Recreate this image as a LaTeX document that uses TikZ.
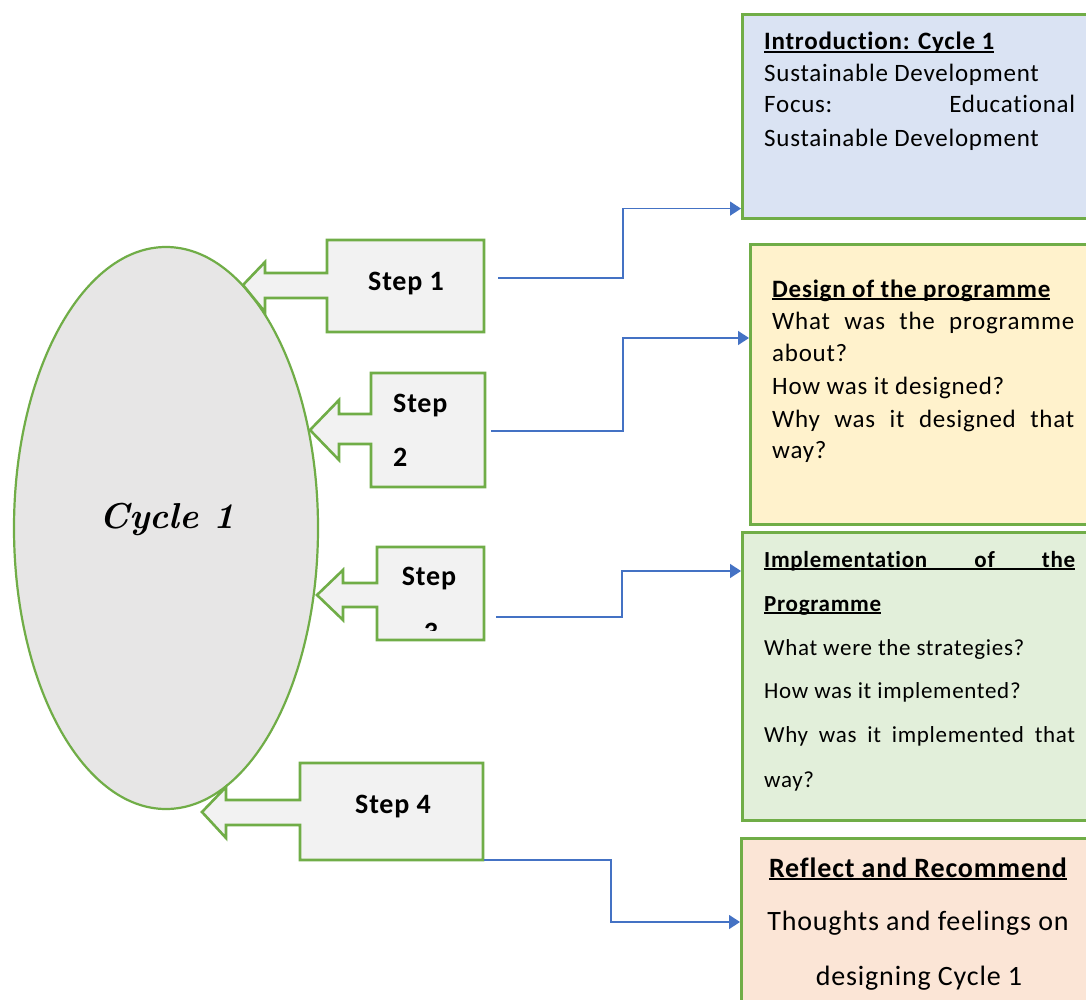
\documentclass[tikz,border=0pt]{standalone}
\usepackage{fontspec}
\setmainfont{Carlito}[LetterSpace=3, Ligatures=NoCommon]
\newfontfamily\cyclefont{Latin Modern Roman}
\usetikzlibrary{arrows.meta,calc,shapes.geometric}
\definecolor{edgegreen}{HTML}{70AD47}
\definecolor{connblue}{HTML}{4472C4}
\definecolor{ovalgray}{HTML}{E7E6E6}
\definecolor{calloutgray}{HTML}{F2F2F2}
\definecolor{introblue}{HTML}{DAE3F3}
\definecolor{designyellow}{HTML}{FFF2CC}
\definecolor{implgreen}{HTML}{E2EFDA}
\definecolor{reflectpeach}{HTML}{FBE5D6}
% underline drawn just under the baseline, through the descenders
\newcommand\ulbox[1]{\leavevmode\setbox0\hbox{#1}\rlap{\rule[-3pt]{\wd0}{1.8pt}}\box0}
\begin{document}
\begin{tikzpicture}[x=1pt,y=-1pt,
  panel/.style={draw=edgegreen, line width=2.6pt, anchor=north west, inner sep=0pt},
  callout/.style={draw=edgegreen, fill=calloutgray, line width=2.6pt, line join=miter},
  txt/.style={anchor=base west, inner sep=0pt},
  ctxt/.style={anchor=base, inner sep=0pt},
  steplabel/.style={anchor=base west, inner sep=0pt, font=\fontsize{28}{28}\selectfont\bfseries},
  conn/.style={draw=connblue, line width=1.3pt, -{Triangle[length=11pt,width=14pt]}},
]
\clip (0,0) rectangle (1086,1000);
\fill[white] (0,0) rectangle (1086,1000);

% central oval
\node[draw=edgegreen, fill=ovalgray, line width=2.2pt, ellipse, minimum width=304pt, minimum height=562pt, inner sep=0pt] (cycle) at (166,528) {};
\node[anchor=base, inner sep=0pt] (cyclelabel) at (167,528) {\cyclefont\bfseries\itshape\fontsize{36}{36}\selectfont Cycle 1};

% step callouts pointing at the oval
\draw[callout] (327,240) -- (484,240) -- (484,332) -- (327,332) -- (327,298) -- (265,298) -- (265,312)
  -- (243,285) -- (265,262) -- (265,273) -- (327,273) -- cycle;
\node[steplabel] (step1) at (368,290) {Step 1};

\draw[callout] (371,373) -- (485,373) -- (485,487) -- (371,487) -- (371,444) -- (339,444) -- (339,460)
  -- (310,430) -- (339,400) -- (339,414) -- (371,414) -- cycle;
\node[steplabel] (step2a) at (393,412) {Step};
\node[steplabel] (step2b) at (393,466) {2};

\draw[callout] (377,547) -- (484,547) -- (484,640) -- (377,640) -- (377,607) -- (343,607) -- (343,620)
  -- (317,595) -- (343,570) -- (343,583) -- (377,583) -- cycle;
\node[steplabel, anchor=base] (step3a) at (429,585) {Step};
\begin{scope}
  \clip (377,547) rectangle (484,630);
  \node[steplabel, anchor=base] (step3b) at (431,641) {3};
\end{scope}

\draw[callout] (300,763) -- (483,763) -- (483,860) -- (300,860) -- (300,825) -- (226,825) -- (226,838)
  -- (202,812) -- (226,787) -- (226,800) -- (300,800) -- cycle;
\node[steplabel] (step4) at (355,813) {Step 4};

% right-hand panels
\node[panel, fill=introblue, minimum width=349pt, minimum height=204pt] (intro) at (741,13) {};
\node[panel, fill=designyellow, minimum width=341pt, minimum height=280pt] (design) at (749,243) {};
\node[panel, fill=implgreen, minimum width=349pt, minimum height=288pt] (impl) at (741,531) {};
\node[panel, fill=reflectpeach, minimum width=350pt, minimum height=180pt] (reflect) at (740,837) {};

% panel texts
\begin{scope}[every node/.append style={font=\fontsize{25}{30}\selectfont}]
  \node[txt] (introT) at (764,50) {\bfseries\ulbox{Introduction: Cycle 1}};
  \node[txt] (introA) at (764,82) {Sustainable Development};
  \node[txt] (introB) at (764,113) {\makebox[311pt][s]{Focus: Educational}};
  \node[txt] (introC) at (764,147) {Sustainable Development};

  \node[txt] (designT) at (772,297) {\bfseries\ulbox{Design of the programme}};
  \node[txt] (designA) at (772,329) {\makebox[302pt][s]{What was the programme}};
  \node[txt] (designB) at (772,361) {about?};
  \node[txt] (designC) at (772,394) {How was it designed?};
  \node[txt] (designD) at (772,427) {\makebox[302pt][s]{Why was it designed that}};
  \node[txt] (designE) at (772,458) {way?};
\end{scope}

\begin{scope}[every node/.append style={font=\fontsize{23}{28}\selectfont}]
  \node[txt] (implT) at (764,567) {\bfseries\ulbox{\makebox[311pt][s]{Implementation of the}}};
  \node[txt] (implU) at (764,611) {\bfseries\ulbox{Programme}};
  \node[txt] (implA) at (764,655) {What were the strategies?};
  \node[txt] (implB) at (764,698) {How was it implemented?};
  \node[txt] (implC) at (764,742) {\makebox[311pt][s]{Why was it implemented that}};
  \node[txt] (implD) at (764,787) {way?};
\end{scope}

\begin{scope}[every node/.append style={font=\fontsize{28}{34}\selectfont}]
  \node[ctxt] (reflectT) at (918,877) {\bfseries\ulbox{Reflect and Recommend}};
  \node[ctxt] (reflectA) at (918,930) {Thoughts and feelings on};
  \node[ctxt] (reflectB) at (919,985) {designing Cycle 1};
\end{scope}

% elbow connectors from the steps to the panels
\coordinate (c1s) at (498,278);
\coordinate (c2s) at (491,431);
\coordinate (c3s) at (496,617);
\coordinate (c4s) at (484,860);
\coordinate (c1e) at ($(intro.south west)+(0,-11)$);
\coordinate (c2e) at ($(design.north west)+(0,95)$);
\coordinate (c3e) at ($(impl.north west)+(0,40)$);
\coordinate (c4e) at ($(reflect.north west)+(0,85)$);
\draw[conn] (c1s) -- ++(125,0) |- (c1e);
\draw[conn] (c2s) -- ++(132,0) |- (c2e);
\draw[conn] (c3s) -- ++(126,0) |- (c3e);
\draw[conn] (c4s) -- ++(127,0) |- (c4e);
\end{tikzpicture}
\end{document}
